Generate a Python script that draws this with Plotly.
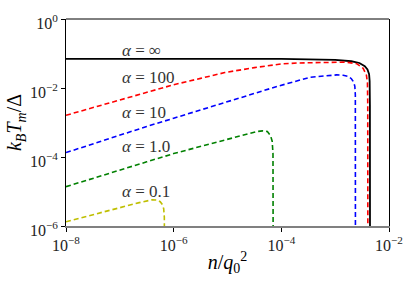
import math
import plotly.graph_objects as go

# alpha = infinity (black, solid)
inf_n = [1e-8, 1e-5, 1e-4, 1e-3, 2.0e-3, 2.82e-3, 3.55e-3, 3.98e-3, 4.27e-3, 4.37e-3, 4.42e-3, 4.44e-3]
inf_T = [0.070, 0.0698, 0.0695, 0.0653, 0.0596, 0.0531, 0.0427, 0.0347, 0.0251, 0.0158, 0.0032, 1e-7]

# alpha = 100 (red, dashed)
a100_n = [1e-8, 3.16e-8, 1e-7, 3.16e-7, 1e-6, 3.16e-6, 8.9e-6, 3.16e-5, 1e-4, 2.0e-4, 4.0e-4,
          7.1e-4, 1.58e-3, 2.51e-3, 3.31e-3, 3.80e-3, 3.98e-3, 4.03e-3, 4.05e-3]
a100_T = [1.62e-3, 2.72e-3, 4.57e-3, 7.6e-3, 0.01245, 0.019, 0.028, 0.039, 0.0498, 0.0531, 0.055,
          0.0562, 0.0562, 0.0507, 0.0372, 0.024, 0.0141, 3.16e-3, 1e-7]

# alpha = 10 (blue, dashed)
a10_n = [1e-8, 3.16e-8, 1e-7, 3.16e-7, 1e-6, 3.16e-6, 8.9e-6, 3.16e-5, 8.5e-5, 3.39e-4, 6.3e-4,
         1.07e-3, 1.41e-3, 1.74e-3, 2.0e-3, 2.21e-3, 2.32e-3, 2.37e-3, 2.38e-3]
a10_T = [1.34e-4, 2.43e-4, 4.37e-4, 7.67e-4, 1.33e-3, 2.29e-3, 3.87e-3, 7.08e-3, 0.01117, 0.0204, 0.0226,
         0.0240, 0.0234, 0.0217, 0.0186, 0.0148, 0.0112, 6.3e-3, 1e-7]

# alpha = 1.0 (green, dashed)
a1_n = [1e-8, 3.16e-8, 1e-7, 3.16e-7, 1e-6, 3.16e-6, 8.9e-6, 2.4e-5, 3.55e-5, 4.47e-5, 5.5e-5,
        6.3e-5, 6.76e-5, 7.0e-5, 7.05e-5]
a1_T = [1.38e-5, 2.43e-5, 4.19e-5, 7.24e-5, 1.256e-4, 2.04e-4, 3.09e-4, 4.68e-4, 5.5e-4, 5.7e-4, 5.46e-4,
        4.17e-4, 2.88e-4, 1.26e-4, 1e-7]

# alpha = 0.1 (yellow, dashed)
a01_n = [1e-8, 3.16e-8, 1e-7, 2.29e-7, 3.98e-7, 5.0e-7, 5.62e-7, 6.17e-7, 6.53e-7, 6.71e-7, 6.75e-7]
a01_T = [1.33e-6, 2.14e-6, 3.41e-6, 4.75e-6, 5.75e-6, 5.62e-6, 5.07e-6, 4.17e-6, 3.16e-6, 1.78e-6, 1e-7]

labels = ["<i>α</i> = ∞", "<i>α</i> = 100", "<i>α</i> = 10", "<i>α</i> = 1.0", "<i>α</i> = 0.1"]
label_y = [0.124, 0.0207, 1.95e-3, 1.96e-4, 1.0e-5]
label_x = 1.0e-7

x_tickvals = [1e-8, 1e-6, 1e-4, 1e-2]
x_ticktext = ["10<sup>−8</sup>", "10<sup>−6</sup>", "10<sup>−4</sup>", "10<sup>−2</sup>"]
y_tickvals = [1e0, 1e-2, 1e-4, 1e-6]
y_ticktext = ["10<sup>0</sup>", "10<sup>−2</sup>", "10<sup>−4</sup>", "10<sup>−6</sup>"]

FONT = "'Liberation Serif', 'DejaVu Serif', serif"

fig = go.Figure()
series = [
    (inf_n, inf_T, "black", "solid", 1.8),
    (a100_n, a100_T, "#ff0000", "5px,3px", 1.6),
    (a10_n, a10_T, "#0000ff", "5px,3px", 1.6),
    (a1_n, a1_T, "#008000", "5px,3px", 1.6),
    (a01_n, a01_T, "#bfbf00", "5px,3px", 1.6),
]
for xs, ys, c, d, w in series:
    fig.add_trace(go.Scatter(x=xs, y=ys, mode="lines",
                             line=dict(color=c, dash=d, width=w),
                             showlegend=False, hoverinfo="skip"))

for lab, ly in zip(labels, label_y):
    fig.add_annotation(x=math.log10(label_x), y=math.log10(ly), xref="x", yref="y",
                       text=lab, showarrow=False, xanchor="left", yanchor="middle",
                       font=dict(family=FONT, size=17, color="#333333"))

fig.update_layout(
    width=415, height=282,
    margin=dict(l=66, r=22, t=12, b=53),
    paper_bgcolor="white", plot_bgcolor="white",
    font=dict(family=FONT, size=14, color="black"),
    xaxis=dict(type="log", range=[-8, -2], showgrid=False, zeroline=False,
               tickvals=x_tickvals, ticktext=x_ticktext, ticks="outside", ticklen=4,
               tickcolor="black", showline=True, linecolor="#808080", linewidth=2,
               mirror=False, tickfont=dict(family=FONT, size=16, color="#222222"),
               title=dict(text="<i>n</i>/<i>q</i><sub>0</sub><sup>2</sup>",
                          font=dict(family=FONT, size=20), standoff=2)),
    yaxis=dict(type="log", range=[-6, 0], showgrid=False, zeroline=False,
               tickvals=y_tickvals, ticktext=y_ticktext, ticks="outside", ticklen=4,
               tickcolor="black", showline=True, linecolor="black", linewidth=1,
               mirror=True, tickfont=dict(family=FONT, size=16, color="#222222"),
               ticklabelshift=4,
               title=dict(text="<i>k<sub>B</sub>T<sub>m</sub></i>/Δ",
                          font=dict(family=FONT, size=20), standoff=2)),
)
fig.add_shape(type="line", xref="paper", yref="paper", x0=0, x1=1, y0=1, y1=1,
              line=dict(color="black", width=1))

fig.write_html("out.html", config={"displayModeBar": False},
               post_script="document.body.style.margin='0px';")
